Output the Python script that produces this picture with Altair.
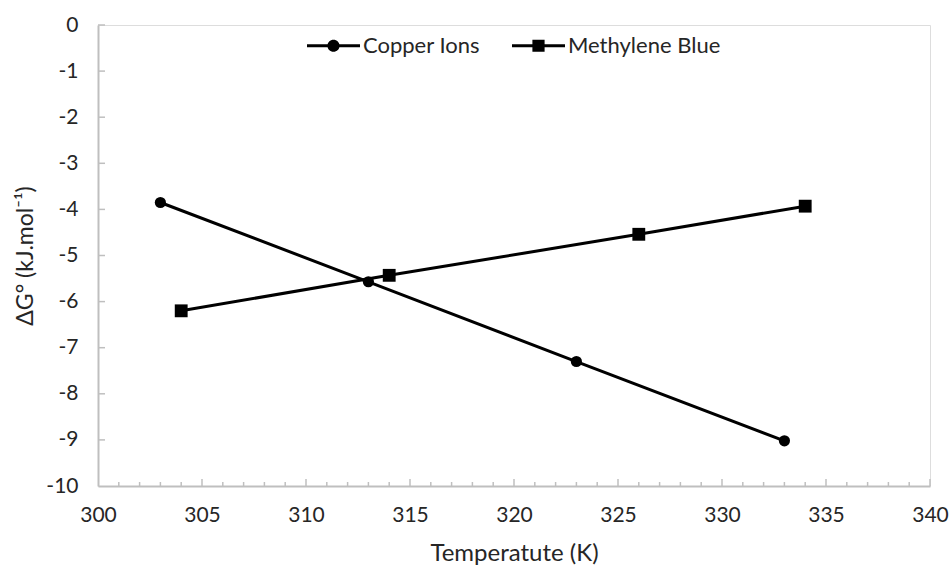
import altair as alt
import pandas as pd

# ---- data ----
series_names = ["Copper Ions", "Methylene Blue"]
copper_T = [303, 313, 323, 333]
copper_G = [-3.85, -5.57, -7.30, -9.02]
mb_T = [304, 314, 326, 334]
mb_G = [-6.20, -5.43, -4.54, -3.93]

x_labels = [300, 305, 310, 315, 320, 325, 330, 335, 340]
y_labels = [0, -1, -2, -3, -4, -5, -6, -7, -8, -9, -10]
x_minor = [v for v in range(301, 340) if v % 5 != 0]
x_major = [305, 310, 315, 320, 325, 330, 335, 340]
y_ticks = [0, -1, -2, -3, -4, -5, -6, -7, -8, -9]

W, H = 832, 461
FONT = "Lato"
TXT = "#262626"
AX = "#bfbfbf"

df = pd.DataFrame({
    "T": copper_T + mb_T,
    "G": copper_G + mb_G,
    "Series": [series_names[0]] * len(copper_T) + [series_names[1]] * len(mb_T),
})

xs = alt.Scale(domain=[300, 340], nice=False, zero=False)
ys = alt.Scale(domain=[-10, 0], nice=False, zero=False)

x_axis = alt.Axis(values=x_labels, tickSize=0, domainColor=AX, domainWidth=2,
                  labelFlush=False, labelPadding=18, labelFontSize=21, labelFont=FONT,
                  labelColor=TXT,
                  title="Temperatute (K)", titleFontSize=24, titleFont=FONT,
                  titleFontWeight="normal", titleColor=TXT, titlePadding=16, grid=False)
y_axis = alt.Axis(values=y_labels, tickSize=0, domainColor=AX, domainWidth=2,
                  labelFlush=False, labelPadding=20, labelFontSize=21, labelFont=FONT,
                  labelColor=TXT, labelExpr="replace(datum.label, '\u2212', '-')",
                  title="ΔG° (kJ.mol⁻¹)", titleFontSize=23, titleFont=FONT,
                  titleFontWeight="normal", titleColor=TXT, titlePadding=8, grid=False)

lines = alt.Chart(df).mark_line(color="black", strokeWidth=3).encode(
    x=alt.X("T:Q", scale=xs, axis=x_axis),
    y=alt.Y("G:Q", scale=ys, axis=y_axis),
    detail="Series:N",
)

points = alt.Chart(df).mark_point(filled=True, opacity=1, color="black").encode(
    x=alt.X("T:Q", scale=xs),
    y=alt.Y("G:Q", scale=ys),
    shape=alt.Shape("Series:N", scale=alt.Scale(domain=series_names, range=["circle", "square"]), legend=None),
    size=alt.Size("Series:N", scale=alt.Scale(domain=series_names, range=[125, 165]), legend=None),
)

# legend (line + marker symbols)
t = 0.057
circ_path = (f"M-1,{-t}L1,{-t}L1,{t}L-1,{t}Z "
             "M0.23,0A0.23,0.23,0,1,1,-0.23,0A0.23,0.23,0,1,1,0.23,0Z")
sq_path = (f"M-1,{-t}L1,{-t}L1,{t}L-1,{t}Z "
           "M-0.23,-0.23L0.23,-0.23L0.23,0.23L-0.23,0.23Z")

legend_df = pd.DataFrame({"Legend": series_names})
legend_layer = alt.Chart(legend_df).transform_filter("false").mark_point(
    filled=True, opacity=1, color="black", size=2809
).encode(
    shape=alt.Shape("Legend:N",
                    scale=alt.Scale(domain=series_names, range=[circ_path, sq_path]),
                    legend=alt.Legend(title=None, orient="none", direction="horizontal",
                                      legendX=209, legendY=-6,
                                      symbolSize=2809, symbolFillColor="black",
                                      symbolStrokeWidth=0, symbolOpacity=1,
                                      labelFont=FONT, labelFontSize=22, labelColor=TXT,
                                      labelOffset=3, columnPadding=32)),
)

# inward tick marks
tick_style = dict(color=AX, strokeWidth=1.5)
xminor_t = alt.Chart(pd.DataFrame({"v": x_minor})).mark_rule(**tick_style).encode(
    x=alt.X("v:Q", scale=xs), y=alt.value(H), y2=alt.value(H - 4))
xmajor_t = alt.Chart(pd.DataFrame({"v": x_major})).mark_rule(**tick_style).encode(
    x=alt.X("v:Q", scale=xs), y=alt.value(H), y2=alt.value(H - 7))
y_t = alt.Chart(pd.DataFrame({"v": y_ticks})).mark_rule(**tick_style).encode(
    y=alt.Y("v:Q", scale=ys), x=alt.value(0), x2=alt.value(7))

chart = alt.layer(lines, xminor_t, xmajor_t, y_t, points, legend_layer).resolve_scale(
    shape="independent", size="independent"
).properties(
    width=W, height=H,
    autosize=alt.AutoSizeParams(type="none"),
    padding={"left": 98, "top": 25, "right": 20, "bottom": 80},
).configure_view(strokeWidth=0, stroke="transparent").configure(background="white")

chart.save("out.html", embed_options={"renderer": "svg", "actions": False})
